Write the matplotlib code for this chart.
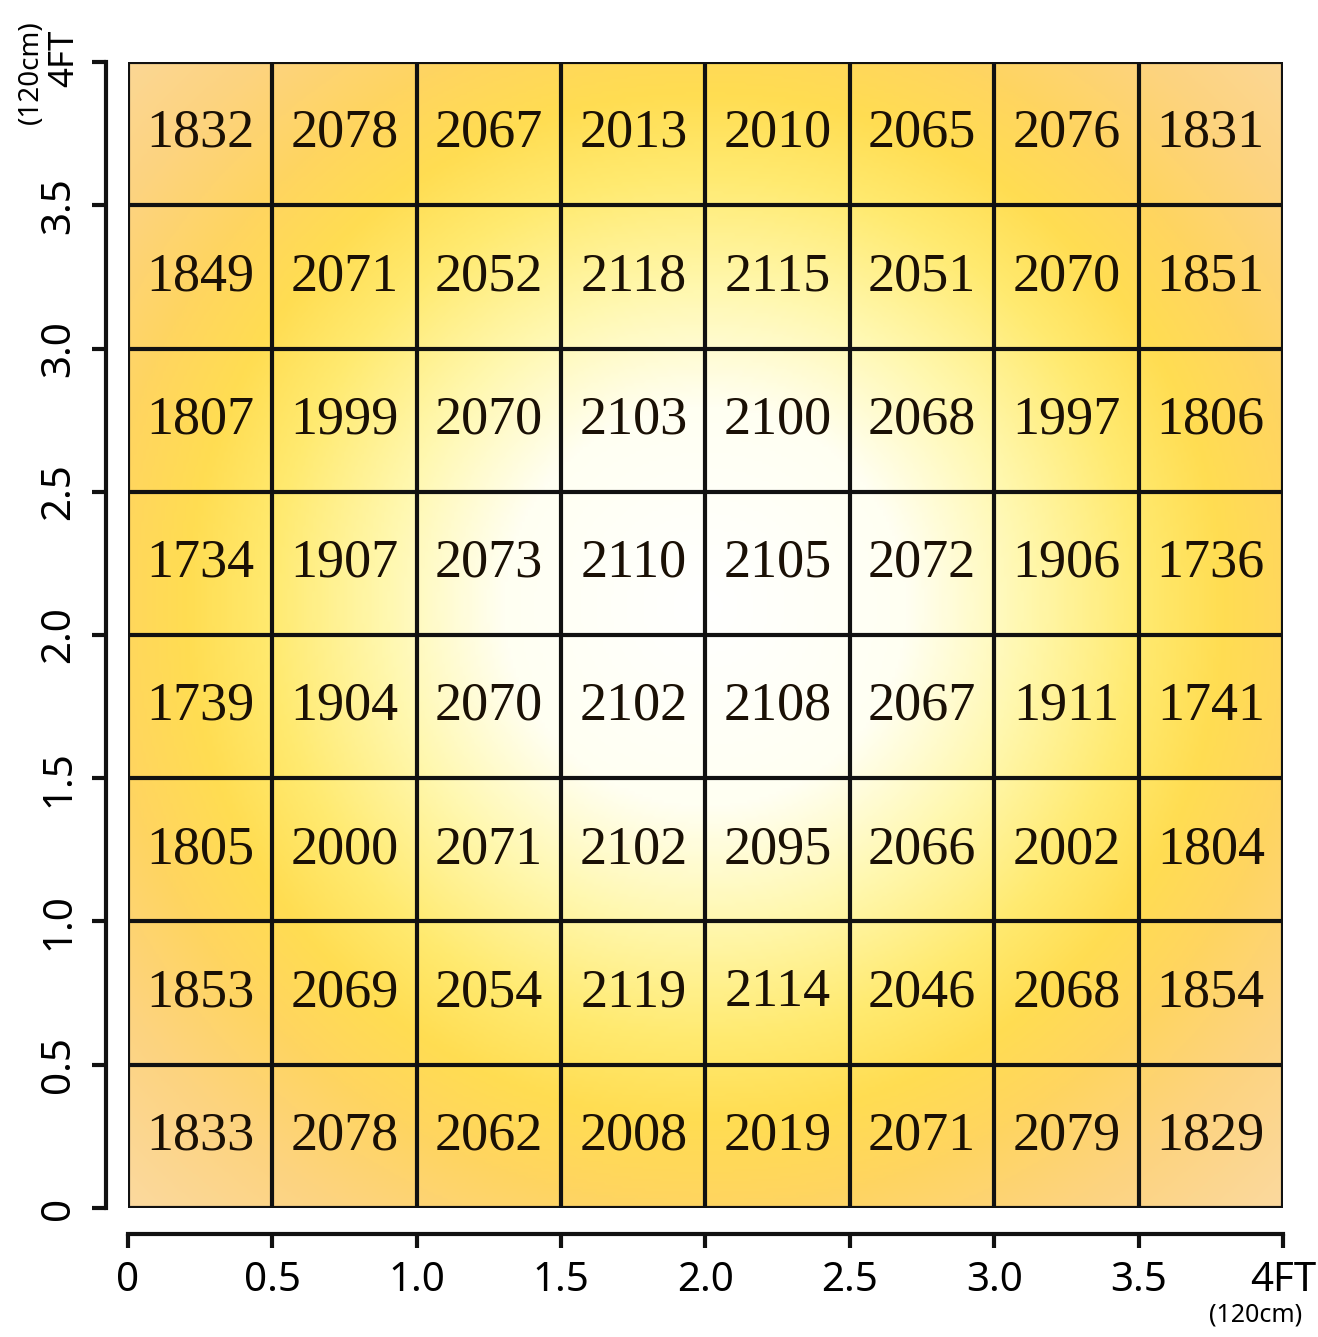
import numpy as np
import matplotlib
matplotlib.use("Agg")
import matplotlib.pyplot as plt
from matplotlib.colors import LinearSegmentedColormap

# measured values, top row first (as printed on the grid)
values = [
    [1832, 2078, 2067, 2013, 2010, 2065, 2076, 1831],
    [1849, 2071, 2052, 2118, 2115, 2051, 2070, 1851],
    [1807, 1999, 2070, 2103, 2100, 2068, 1997, 1806],
    [1734, 1907, 2073, 2110, 2105, 2072, 1906, 1736],
    [1739, 1904, 2070, 2102, 2108, 2067, 1911, 1741],
    [1805, 2000, 2071, 2102, 2095, 2066, 2002, 1804],
    [1853, 2069, 2054, 2119, 2114, 2046, 2068, 1854],
    [1833, 2078, 2062, 2008, 2019, 2071, 2079, 1829],
]
ticks = [0, 0.5, 1.0, 1.5, 2.0, 2.5, 3.0, 3.5, 4.0]
tick_labels = ["0", "0.5", "1.0", "1.5", "2.0", "2.5", "3.0", "3.5", "4FT"]

num_font = "Liberation Serif"
tick_font = "Noto Sans"

fig = plt.figure(figsize=(13.18, 13.37), dpi=100)
ax = fig.add_axes([0.0971, 0.0965, 0.8763, 0.8571])

# radial background shading, white in the middle going to orange at the corners
grad = LinearSegmentedColormap.from_list("lux", [
    (0.0, "#ffffff"), (0.24, "#fffff2"), (0.38, "#fff8b0"),
    (0.52, "#ffea70"), (0.62, "#ffdd52"), (0.72, "#ffd560"),
    (0.84, "#fdd37e"), (1.0, "#fbd99e")])
gx, gy = np.meshgrid(np.linspace(0, 4, 400), np.linspace(0, 4, 400))
r = np.sqrt((gx - 2.0) ** 2 + (gy - 2.1) ** 2) / 2.9
ax.imshow(r, extent=[0, 4, 0, 4], origin="lower", cmap=grad, vmin=0, vmax=1,
          interpolation="bilinear", zorder=0)

n = len(values)
step = 4.0 / n
for i, row in enumerate(values):
    for j, v in enumerate(row):
        ax.text((j + 0.5) * step, 4 - (i + 0.5) * step, str(v),
                ha="center", va="center", fontsize=39, family=num_font,
                color="#1a1005", zorder=3)

for k in range(n + 1):
    ax.axhline(k * step, color="#111111", lw=3, zorder=2)
    ax.axvline(k * step, color="#111111", lw=3, zorder=2)

ax.set_xlim(0, 4)
ax.set_ylim(0, 4)
ax.set_aspect("auto")

for s in ["top", "right"]:
    ax.spines[s].set_visible(False)
ax.spines["left"].set_position(("outward", 16))
ax.spines["bottom"].set_position(("outward", 19))
for s in ["left", "bottom"]:
    ax.spines[s].set_linewidth(3)
    ax.spines[s].set_color("#111111")

ax.set_xticks(ticks)
ax.set_xticklabels(tick_labels, family=tick_font, fontsize=29)
ax.set_yticks(ticks)
ax.set_yticklabels(tick_labels[:-1] + [""], family=tick_font, fontsize=29,
                   rotation=90, va="center")
ax.tick_params(axis="both", length=10, width=3, color="#111111")
ax.tick_params(axis="x", pad=9)
ax.tick_params(axis="y", pad=9)

# the 120 cm notes next to the 4FT ends
ax.annotate("(120cm)", xy=(4.0, 0), xycoords=("data", "axes fraction"),
            xytext=(-20, -77), textcoords="offset points", ha="center",
            va="center", fontsize=18, family=tick_font)
ax.annotate("4FT", xy=(0, 4.0), xycoords=("axes fraction", "data"),
            xytext=(-46, 3), textcoords="offset points", ha="center",
            va="center", rotation=90, fontsize=25, family=tick_font)
ax.annotate("(120cm)", xy=(0, 4.0), xycoords=("axes fraction", "data"),
            xytext=(-70, -7), textcoords="offset points", ha="center",
            va="center", rotation=90, fontsize=20, family=tick_font)

fig.savefig("out.png", dpi=100)
